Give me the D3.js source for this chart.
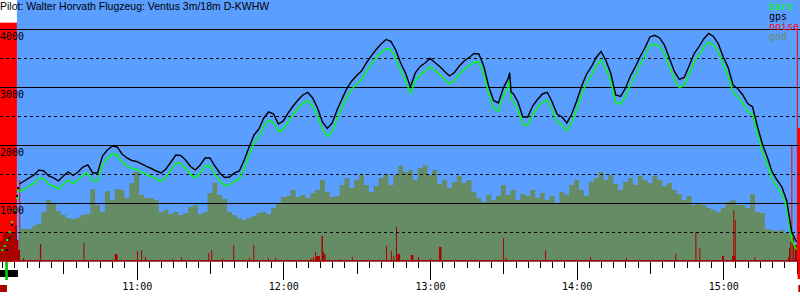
<!DOCTYPE html>
<html>
<head>
<meta charset="utf-8">
<script src="https://cdn.jsdelivr.net/npm/d3@7"></script>
<style>
  body { margin: 0; background: #ffffff; }
  svg { display: block; }
</style>
</head>
<body>
<svg id="chart" width="800" height="300"></svg>
<script>
// Flight header.
const title = "Pilot: Walter Horvath Flugzeug: Ventus 3m/18m D-KWHW";

// Minutes after 10:00 for every sample of the flight.
const minutes = [
  12, 14, 16, 18, 20, 22, 24, 26, 28, 30,
  32, 34, 36, 38, 40, 42, 44, 46, 48, 50,
  52, 54, 56, 58, 60, 62, 64, 66, 68, 70,
  72, 74, 76, 78, 80, 82, 84, 86, 88, 90,
  92, 94, 96, 98, 100, 102, 104, 106, 108, 110,
  112, 114, 116, 118, 120, 122, 124, 126, 128, 130,
  132, 134, 136, 138, 140, 142, 144, 146, 148, 150,
  152, 154, 156, 158, 160, 162, 164, 166, 168, 170,
  172, 174, 176, 178, 180, 182, 184, 186, 188, 190,
  192, 194, 196, 198, 200, 202, 204, 206, 208, 210,
  212, 212.6, 213.2, 214, 216, 218, 220, 222, 224, 226,
  228, 230, 232, 234, 236, 238, 240, 242, 244, 246,
  248, 250, 252, 254, 256, 258, 260, 262, 264, 266,
  268, 270, 272, 274, 276, 278, 280, 282, 284, 286,
  288, 290, 292, 294, 296, 298, 300, 302, 304, 306,
  308, 310, 312, 314, 316, 318, 320, 322, 324, 326,
  328, 330
];

// GPS altitude (m).
const gps = [
  1335, 1387, 1439, 1490, 1577, 1559, 1473, 1439, 1387, 1473,
  1542, 1482, 1542, 1628, 1663, 1525, 1525, 1818, 1921, 1990,
  1973, 1852, 1783, 1740, 1723, 1680, 1637, 1602, 1559, 1525,
  1594, 1714, 1835, 1826, 1749, 1637, 1577, 1663, 1783, 1783,
  1645, 1525, 1447, 1456, 1525, 1559, 1749, 1973, 2180, 2283,
  2473, 2576, 2541, 2369, 2421, 2559, 2679, 2783, 2869, 2912,
  2817, 2645, 2404, 2292, 2386, 2610, 2800, 2981, 3110, 3205,
  3282, 3420, 3541, 3653, 3748, 3825, 3791, 3644, 3420, 3248,
  3007, 3248, 3360, 3420, 3501, 3429, 3360, 3274, 3196, 3256,
  3368, 3455, 3515, 3584, 3575, 3368, 3024, 2774, 2731, 2989,
  3150, 3253, 2915, 2898, 2748, 2490, 2490, 2679, 2791, 2886,
  2915, 2748, 2541, 2490, 2386, 2541, 2765, 3015, 3222, 3351,
  3515, 3618, 3463, 3239, 2869, 2843, 2989, 3196, 3351, 3532,
  3687, 3868, 3897, 3851, 3722, 3498, 3274, 3136, 3170, 3368,
  3575, 3696, 3834, 3928, 3877, 3748, 3524, 3343, 3041, 2975,
  2869, 2722, 2662, 2326, 2025, 1800, 1542, 1404, 1284, 1042,
  508, 336
];

// Barometric altitude (m).
const baro = [
  1200, 1245, 1300, 1350, 1440, 1425, 1330, 1300, 1250, 1335,
  1400, 1345, 1400, 1490, 1525, 1390, 1385, 1670, 1780, 1850,
  1835, 1715, 1645, 1600, 1585, 1540, 1500, 1465, 1420, 1385,
  1455, 1575, 1695, 1690, 1610, 1500, 1440, 1520, 1645, 1650,
  1505, 1385, 1310, 1315, 1385, 1420, 1605, 1830, 2040, 2145,
  2330, 2435, 2400, 2240, 2280, 2415, 2535, 2640, 2725, 2770,
  2680, 2510, 2270, 2150, 2240, 2465, 2655, 2835, 2965, 3060,
  3140, 3275, 3395, 3505, 3600, 3670, 3650, 3505, 3285, 3115,
  2900, 3110, 3215, 3275, 3360, 3290, 3220, 3135, 3060, 3115,
  3225, 3310, 3370, 3440, 3435, 3235, 2895, 2640, 2590, 2845,
  3010, 3115, 2790, 2760, 2610, 2355, 2350, 2535, 2650, 2745,
  2775, 2610, 2405, 2350, 2250, 2400, 2620, 2870, 3075, 3205,
  3370, 3475, 3325, 3100, 2740, 2705, 2845, 3050, 3205, 3385,
  3540, 3720, 3745, 3705, 3580, 3360, 3135, 3000, 3030, 3225,
  3430, 3550, 3690, 3780, 3735, 3605, 3385, 3205, 2905, 2840,
  2730, 2585, 2525, 2195, 1895, 1670, 1415, 1280, 1165, 925,
  380, 200
];

// Ground elevation under the glider (m).
const gnd = [
  560, 560, 560, 612, 646, 853, 1060, 991, 870, 801,
  750, 732, 750, 801, 818, 1249, 974, 853, 1215, 1060,
  1249, 1232, 1094, 1353, 1542, 1146, 1094, 1094, 1060, 853,
  887, 818, 853, 801, 836, 939, 974, 818, 853, 1180,
  1353, 1146, 1077, 853, 801, 750, 715, 750, 784, 836,
  853, 818, 922, 1008, 1111, 1128, 1232, 1111, 1146, 1094,
  1180, 1232, 1404, 1197, 1111, 1128, 1318, 1439, 1266, 1404,
  1490, 1318, 1197, 1301, 1439, 1508, 1318, 1490, 1645, 1542,
  1577, 1404, 1611, 1663, 1490, 1577, 1335, 1404, 1266, 1370,
  1473, 1353, 1404, 1197, 1094, 1025, 1146, 1060, 1128, 1318,
  1146, 1146, 1232, 1232, 1060, 1163, 1128, 1232, 1094, 1180,
  1060, 1128, 1008, 1197, 1146, 1318, 1404, 1232, 1128, 1370,
  1439, 1542, 1404, 1490, 1335, 1232, 1370, 1439, 1318, 1473,
  1404, 1353, 1473, 1404, 1301, 1353, 1232, 1163, 1060, 1128,
  974, 1008, 974, 922, 887, 853, 922, 1025, 1060, 974,
  974, 922, 1163, 853, 836, 560, 543, 526, 543, 491,
  457, 284
];

// Climb under engine before the flight proper (sparse fixes, drawn as dots).
const climbMinutes = [5, 6, 7, 8, 9, 10, 11, 11.5];
const climbBaro = [198, 267, 370, 508, 681, 887, 1094, 1232];
const climbGps = [null, null, 198, 405, 629, 853, 1128, 1266];

// Noise level (0..999): spikes with start minute, level and duration in minutes.
const noiseMinutes = [
  13.5, 20.4, 38.2, 51.0, 60.1, 61.8, 63.4, 74.4, 78.1, 89.3,
  90.5, 94.9, 99.5, 106.0, 107.7, 113.7, 116.6, 131.1, 132.1, 133.0,
  133.4, 135.6, 136.2, 136.7, 142.8, 148.0, 162.0, 164.0, 165.0, 166.1,
  166.6, 172.2, 175.1, 180.0, 183.7, 209.9, 211.0, 227.1, 245.5, 260.2,
  280.4, 288.6, 290.2, 299.5, 303.6, 304.1, 304.7, 312.7, 326.4, 326.9,
  327.4, 328.3, 329.2
];
const noiseLevels = [
  15, 73, 77, 31, 44, 48, 19, 10, 19, 36,
  48, 10, 69, 15, 69, 15, 15, 15, 19, 40,
  23, 107, 40, 31, 10, 19, 65, 44, 23, 144,
  31, 27, 19, 10, 61, 98, 15, 48, 19, 15,
  31, 123, 56, 23, 23, 215, 174, 19, 19, 56,
  82, 98, 69
];
const noiseSpans = [
  0.4, 0.5, 0.4, 1.2, 0.4, 0.4, 0.4, 0.4, 0.4, 0.4,
  0.4, 0.4, 0.4, 0.4, 0.4, 0.4, 0.4, 0.4, 0.4, 0.4,
  1.6, 0.6, 0.4, 0.6, 0.4, 0.4, 0.4, 0.4, 0.4, 0.4,
  1.2, 1.0, 0.4, 0.4, 1.0, 0.4, 0.4, 0.4, 0.4, 0.4,
  0.4, 0.4, 0.4, 0.8, 1.4, 0.4, 0.4, 0.4, 0.4, 0.4,
  0.5, 0.6, 1.0
];
const noiseFloor = 6;
// Noise during the engine climb (stepped).
const climbNoiseMinutes = [4.07, 5.3, 10.2, 11.0, 11.6, 12.3];
const climbNoise = [86, 123, 153, 90, 48, 48];

// Engine running: start minute, end minute, level.
const engineStart = [4.07, 11.95, 327.85, 330.1, 330.4];
const engineEnd = [11.0, 12.35, 328.25, 330.5, 331.5];
const engineLevel = [999, 341, 487, 977, 558];

// Axis ticks and legend.
const altSolid = [1000, 2000, 3000, 4000];
const altDashed = [500, 1500, 2500, 3500];
const legendNames = ["baro", "gps", "noise", "gnd"];
const legendColors = ["#00ff00", "#000000", "#ff0000", "#668c66"];

// ----------------------------------------------------------------------
const W = 800, H = 300;
const mono = "'DejaVu Sans Mono', 'Liberation Mono', monospace";
const T0 = new Date(2020, 5, 1, 10, 0, 0);
const at = m => new Date(T0.getTime() + m * 60000);

const x = d3.scaleTime().domain([at(4.07), at(331.4)]).range([0, W]);
const y = d3.scaleLinear().domain([0, 4000]).range([261.5, 29.3]);
const yNoise = d3.scaleLinear().domain([0, 999]).range([261.5, 22.7]);

const flight = minutes.map((m, i) => ({ t: at(m), gps: gps[i], baro: baro[i], gnd: gnd[i] }));

const svg = d3.select("#chart");

// Sky behind the flight.
svg.append("rect")
  .attr("x", x(at(11)))
  .attr("y", 0)
  .attr("width", W - x(at(11)))
  .attr("height", y(0))
  .attr("fill", "#5a9eff");

// Engine bars.
engineStart.forEach((s, i) => {
  svg.append("rect")
    .attr("x", x(at(s)))
    .attr("width", Math.max(1, x(at(engineEnd[i])) - x(at(s))))
    .attr("y", yNoise(engineLevel[i]))
    .attr("height", yNoise(0) - yNoise(engineLevel[i]))
    .attr("fill", "#ff0000");
});

// Ground.
svg.append("path")
  .datum(flight)
  .attr("fill", "#668c66")
  .attr("d", d3.area()
    .x(d => x(d.t))
    .y0(y(0))
    .y1(d => y(d.gnd))
    .curve(d3.curveStep));

// Noise floor, climb noise and spikes.
svg.append("rect")
  .attr("x", 0).attr("width", W)
  .attr("y", yNoise(noiseFloor))
  .attr("height", yNoise(0) - yNoise(noiseFloor))
  .attr("fill", "#a80000");

svg.append("path")
  .datum(climbNoiseMinutes.map((m, i) => ({ t: at(m), v: climbNoise[i] })))
  .attr("fill", "#a80000")
  .attr("d", d3.area()
    .x(d => x(d.t))
    .y0(yNoise(0))
    .y1(d => yNoise(d.v))
    .curve(d3.curveStepAfter));

noiseMinutes.forEach((m, i) => {
  const x0 = x(at(m));
  svg.append("rect")
    .attr("x", x0)
    .attr("width", Math.max(1, x(at(m + noiseSpans[i])) - x0))
    .attr("y", yNoise(noiseLevels[i]))
    .attr("height", yNoise(0) - yNoise(noiseLevels[i]))
    .attr("fill", "#a80000");
});

// Altitude grid.
const grid = svg.append("g").attr("shape-rendering", "crispEdges");
altSolid.concat(altDashed).forEach(v => {
  const yy = Math.round(y(v)) + 0.5;
  grid.append("line")
    .attr("x1", 0).attr("x2", W)
    .attr("y1", yy).attr("y2", yy)
    .attr("stroke", "#000")
    .attr("stroke-width", 1)
    .attr("stroke-dasharray", altDashed.includes(v) ? "3,3" : null);
});

// Altitude lines.
const line = key => d3.line().x(d => x(d.t)).y(d => y(d[key]));
svg.append("path").datum(flight)
  .attr("fill", "none").attr("stroke", "#00ff00").attr("stroke-width", 1.4)
  .attr("d", line("baro"));
svg.append("path").datum(flight)
  .attr("fill", "none").attr("stroke", "#000000").attr("stroke-width", 1.4)
  .attr("d", line("gps"));

// Sparse fixes of the engine climb.
climbMinutes.forEach((m, i) => {
  svg.append("rect")
    .attr("x", x(at(m)) - 1).attr("y", y(climbBaro[i]) - 1)
    .attr("width", 2).attr("height", 2).attr("fill", "#00ff00");
  if (climbGps[i] !== null) {
    svg.append("rect")
      .attr("x", x(at(m)) - 1).attr("y", y(climbGps[i]) - 1)
      .attr("width", 2).attr("height", 2).attr("fill", "#000000");
  }
});

// Altitude labels.
altSolid.forEach(v => {
  svg.append("text")
    .attr("x", 0)
    .attr("y", y(v) + 11)
    .attr("font-family", mono)
    .attr("font-size", 10)
    .attr("fill", "#000")
    .text(v);
});

// Time axis.
const axis = svg.append("g")
  .attr("transform", "translate(0,262)")
  .call(d3.axisBottom(x)
    .ticks(d3.timeMinute.every(5))
    .tickSizeOuter(0)
    .tickFormat(d => d.getMinutes() === 0 ? d3.timeFormat("%H:%M")(d) : ""));
axis.select(".domain").remove();
axis.selectAll(".tick line")
  .attr("stroke", "#000")
  .attr("shape-rendering", "crispEdges")
  .attr("y2", d => d.getMinutes() === 0 ? 18 : (d.getMinutes() === 30 ? 12 : 6));
axis.selectAll(".tick text")
  .attr("y", 28).attr("dy", 0)
  .attr("font-family", mono)
  .attr("font-size", 10)
  .attr("fill", "#000");

// Markers below the axis.
const mark = (m0, m1, y0, h, c) => svg.append("rect")
  .attr("x", x(at(m0))).attr("width", Math.max(1, x(at(m1)) - x(at(m0))))
  .attr("y", y0).attr("height", h).attr("fill", c);
mark(engineStart[0], 11.4, 270, 7, "#000000");
mark(6.2, 7.3, 262, 18, "#00c800");
mark(engineStart[0], 6.9, 285, 7, "#a80000");
mark(engineStart[4], engineEnd[4], 261.5, 17.5, "#ff0000");
mark(330.7, engineEnd[4], 285, 7, "#c00000");

// Legend.
legendNames.forEach((n, i) => {
  svg.append("text")
    .attr("x", 769)
    .attr("y", 10 + i * 10)
    .attr("font-family", mono)
    .attr("font-size", 10)
    .attr("fill", legendColors[i])
    .text(n);
});

// Title.
svg.append("text")
  .attr("x", 0)
  .attr("y", 10)
  .attr("font-family", "'Liberation Sans', Arial, sans-serif")
  .attr("font-size", 10.5)
  .attr("fill", "#000")
  .text(title);
</script>
</body>
</html>
